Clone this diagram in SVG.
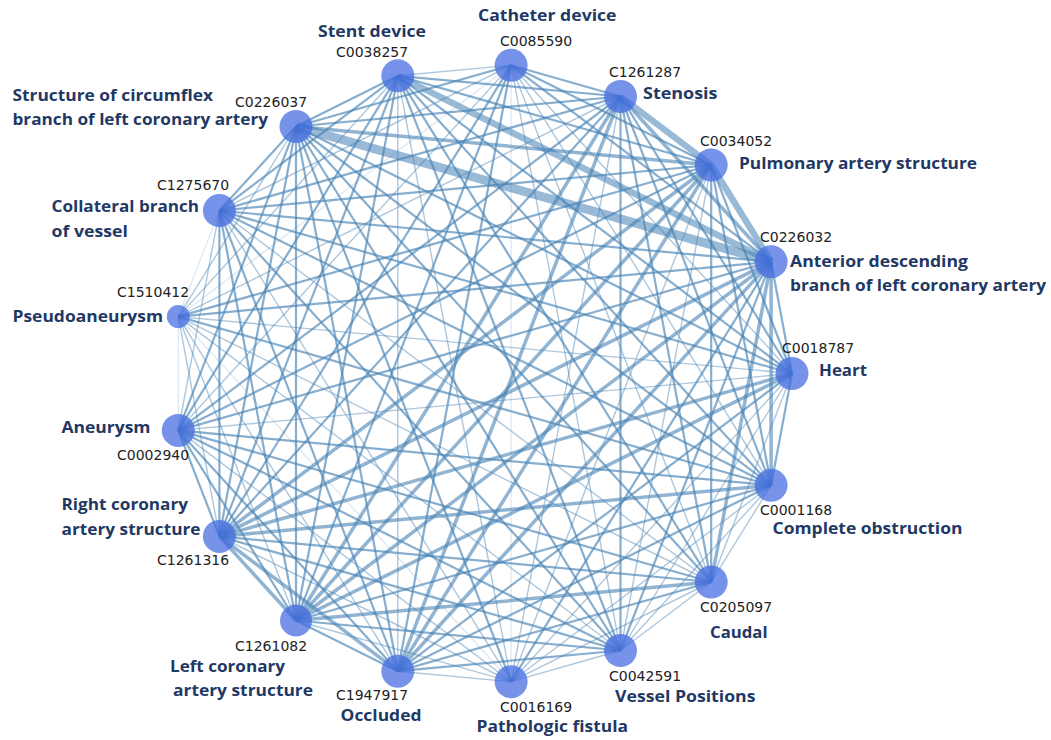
<svg xmlns="http://www.w3.org/2000/svg" width="1051" height="740" viewBox="0 0 1051 740">
<style>
.e line{stroke:#4682b4;stroke-linecap:butt}
.xl{stroke-width:9;stroke-opacity:.55}
.l{stroke-width:6.5;stroke-opacity:.55}
.mp{stroke-width:3.5;stroke-opacity:.6}
.m{stroke-width:2.2;stroke-opacity:.65}
.s{stroke-width:1.4;stroke-opacity:.45}
.xs{stroke-width:1.2;stroke-opacity:.2}
.n circle{fill:#4169e1;fill-opacity:.72}
.id{font-family:"DejaVu Sans",sans-serif;font-size:14px;fill:#222}
.nm{font-family:"Open Sans","Liberation Sans",sans-serif;font-weight:700;font-size:16.5px;fill:#1f3864}
</style>
<rect width="1051" height="740" fill="#fff"/>
<g id="connectors" class="e">
<!-- Heart 0 -->
<line class="m" x1="792" y1="373.5" x2="711.2" y2="165"/>
<line class="m" x1="792" y1="373.5" x2="620.5" y2="96.5"/>
<line class="s" x1="792" y1="373.5" x2="511.1" y2="65.3"/>
<line class="m" x1="792" y1="373.5" x2="397.8" y2="75.8"/>
<line class="m" x1="792" y1="373.5" x2="296" y2="126.5"/>
<line class="m" x1="792" y1="373.5" x2="219.4" y2="210.6"/>
<line class="s" x1="792" y1="373.5" x2="178.3" y2="316.6"/>
<line class="s" x1="792" y1="373.5" x2="178.3" y2="430.4"/>
<line class="mp" x1="792" y1="373.5" x2="219.4" y2="536.4"/>
<line class="mp" x1="792" y1="373.5" x2="296" y2="620.5"/>
<line class="m" x1="792" y1="373.5" x2="397.8" y2="671.2"/>
<line class="s" x1="792" y1="373.5" x2="511.1" y2="681.7"/>
<line class="s" x1="792" y1="373.5" x2="620.5" y2="650.5"/>
<line class="s" x1="792" y1="373.5" x2="711.2" y2="582"/>
<line class="m" x1="792" y1="373.5" x2="771.1" y2="485.3"/>
<!-- Anterior 1 -->
<line class="m" x1="771.1" y1="261.7" x2="792" y2="373.5"/>
<line class="mp" x1="771.1" y1="261.7" x2="620.5" y2="96.5"/>
<line class="m" x1="771.1" y1="261.7" x2="511.1" y2="65.3"/>
<line class="m" x1="771.1" y1="261.7" x2="219.4" y2="210.6"/>
<line class="m" x1="771.1" y1="261.7" x2="178.3" y2="316.6"/>
<line class="m" x1="771.1" y1="261.7" x2="178.3" y2="430.4"/>
<line class="mp" x1="771.1" y1="261.7" x2="219.4" y2="536.4"/>
<line class="mp" x1="771.1" y1="261.7" x2="296" y2="620.5"/>
<line class="mp" x1="771.1" y1="261.7" x2="397.8" y2="671.2"/>
<line class="m" x1="771.1" y1="261.7" x2="511.1" y2="681.7"/>
<line class="m" x1="771.1" y1="261.7" x2="620.5" y2="650.5"/>
<line class="mp" x1="771.1" y1="261.7" x2="711.2" y2="582"/>
<line class="mp" x1="771.1" y1="261.7" x2="771.1" y2="485.3"/>
<!-- Pulmonary 2 -->
<line class="m" x1="711.2" y1="165" x2="511.1" y2="65.3"/>
<line class="m" x1="711.2" y1="165" x2="397.8" y2="75.8"/>
<line class="mp" x1="711.2" y1="165" x2="296" y2="126.5"/>
<line class="m" x1="711.2" y1="165" x2="219.4" y2="210.6"/>
<line class="m" x1="711.2" y1="165" x2="178.3" y2="316.6"/>
<line class="m" x1="711.2" y1="165" x2="178.3" y2="430.4"/>
<line class="mp" x1="711.2" y1="165" x2="219.4" y2="536.4"/>
<line class="mp" x1="711.2" y1="165" x2="296" y2="620.5"/>
<line class="mp" x1="711.2" y1="165" x2="397.8" y2="671.2"/>
<line class="s" x1="711.2" y1="165" x2="511.1" y2="681.7"/>
<line class="s" x1="711.2" y1="165" x2="620.5" y2="650.5"/>
<line class="m" x1="711.2" y1="165" x2="711.2" y2="582"/>
<line class="m" x1="711.2" y1="165" x2="771.1" y2="485.3"/>
<!-- Stenosis 3 -->
<line class="m" x1="620.5" y1="96.5" x2="511.1" y2="65.3"/>
<line class="m" x1="620.5" y1="96.5" x2="397.8" y2="75.8"/>
<line class="m" x1="620.5" y1="96.5" x2="296" y2="126.5"/>
<line class="m" x1="620.5" y1="96.5" x2="219.4" y2="210.6"/>
<line class="s" x1="620.5" y1="96.5" x2="178.3" y2="316.6"/>
<line class="m" x1="620.5" y1="96.5" x2="178.3" y2="430.4"/>
<line class="m" x1="620.5" y1="96.5" x2="219.4" y2="536.4"/>
<line class="mp" x1="620.5" y1="96.5" x2="296" y2="620.5"/>
<line class="mp" x1="620.5" y1="96.5" x2="397.8" y2="671.2"/>
<line class="s" x1="620.5" y1="96.5" x2="511.1" y2="681.7"/>
<line class="m" x1="620.5" y1="96.5" x2="620.5" y2="650.5"/>
<line class="m" x1="620.5" y1="96.5" x2="711.2" y2="582"/>
<line class="m" x1="620.5" y1="96.5" x2="771.1" y2="485.3"/>
<!-- Catheter 4 -->
<line class="s" x1="511.1" y1="65.3" x2="397.8" y2="75.8"/>
<line class="m" x1="511.1" y1="65.3" x2="296" y2="126.5"/>
<line class="s" x1="511.1" y1="65.3" x2="219.4" y2="210.6"/>
<line class="xs" x1="511.1" y1="65.3" x2="178.3" y2="316.6"/>
<line class="s" x1="511.1" y1="65.3" x2="178.3" y2="430.4"/>
<line class="m" x1="511.1" y1="65.3" x2="219.4" y2="536.4"/>
<line class="m" x1="511.1" y1="65.3" x2="296" y2="620.5"/>
<line class="m" x1="511.1" y1="65.3" x2="397.8" y2="671.2"/>
<line class="xs" x1="511.1" y1="65.3" x2="511.1" y2="681.7"/>
<line class="s" x1="511.1" y1="65.3" x2="620.5" y2="650.5"/>
<line class="s" x1="511.1" y1="65.3" x2="711.2" y2="582"/>
<line class="s" x1="511.1" y1="65.3" x2="771.1" y2="485.3"/>
<!-- Stent 5 -->
<line class="m" x1="397.8" y1="75.8" x2="296" y2="126.5"/>
<line class="m" x1="397.8" y1="75.8" x2="219.4" y2="210.6"/>
<line class="s" x1="397.8" y1="75.8" x2="178.3" y2="316.6"/>
<line class="m" x1="397.8" y1="75.8" x2="178.3" y2="430.4"/>
<line class="m" x1="397.8" y1="75.8" x2="219.4" y2="536.4"/>
<line class="m" x1="397.8" y1="75.8" x2="296" y2="620.5"/>
<line class="s" x1="397.8" y1="75.8" x2="397.8" y2="671.2"/>
<line class="s" x1="397.8" y1="75.8" x2="511.1" y2="681.7"/>
<line class="m" x1="397.8" y1="75.8" x2="620.5" y2="650.5"/>
<line class="m" x1="397.8" y1="75.8" x2="711.2" y2="582"/>
<line class="m" x1="397.8" y1="75.8" x2="771.1" y2="485.3"/>
<!-- Circumflex 6 -->
<line class="m" x1="296" y1="126.5" x2="219.4" y2="210.6"/>
<line class="s" x1="296" y1="126.5" x2="178.3" y2="316.6"/>
<line class="m" x1="296" y1="126.5" x2="178.3" y2="430.4"/>
<line class="m" x1="296" y1="126.5" x2="219.4" y2="536.4"/>
<line class="m" x1="296" y1="126.5" x2="296" y2="620.5"/>
<line class="m" x1="296" y1="126.5" x2="397.8" y2="671.2"/>
<line class="m" x1="296" y1="126.5" x2="511.1" y2="681.7"/>
<line class="m" x1="296" y1="126.5" x2="620.5" y2="650.5"/>
<line class="m" x1="296" y1="126.5" x2="711.2" y2="582"/>
<line class="m" x1="296" y1="126.5" x2="771.1" y2="485.3"/>
<!-- Collateral 7 -->
<line class="xs" x1="219.4" y1="210.6" x2="178.3" y2="316.6"/>
<line class="s" x1="219.4" y1="210.6" x2="178.3" y2="430.4"/>
<line class="m" x1="219.4" y1="210.6" x2="219.4" y2="536.4"/>
<line class="m" x1="219.4" y1="210.6" x2="296" y2="620.5"/>
<line class="m" x1="219.4" y1="210.6" x2="397.8" y2="671.2"/>
<line class="s" x1="219.4" y1="210.6" x2="511.1" y2="681.7"/>
<line class="m" x1="219.4" y1="210.6" x2="620.5" y2="650.5"/>
<line class="s" x1="219.4" y1="210.6" x2="711.2" y2="582"/>
<line class="m" x1="219.4" y1="210.6" x2="771.1" y2="485.3"/>
<!-- Pseudoaneurysm 8 -->
<line class="xs" x1="178.3" y1="316.6" x2="178.3" y2="430.4"/>
<line class="s" x1="178.3" y1="316.6" x2="219.4" y2="536.4"/>
<line class="s" x1="178.3" y1="316.6" x2="296" y2="620.5"/>
<line class="s" x1="178.3" y1="316.6" x2="397.8" y2="671.2"/>
<line class="xs" x1="178.3" y1="316.6" x2="511.1" y2="681.7"/>
<line class="s" x1="178.3" y1="316.6" x2="620.5" y2="650.5"/>
<line class="s" x1="178.3" y1="316.6" x2="711.2" y2="582"/>
<line class="m" x1="178.3" y1="316.6" x2="771.1" y2="485.3"/>
<!-- Aneurysm 9 -->
<line class="m" x1="178.3" y1="430.4" x2="219.4" y2="536.4"/>
<line class="m" x1="178.3" y1="430.4" x2="296" y2="620.5"/>
<line class="m" x1="178.3" y1="430.4" x2="397.8" y2="671.2"/>
<line class="s" x1="178.3" y1="430.4" x2="511.1" y2="681.7"/>
<line class="m" x1="178.3" y1="430.4" x2="620.5" y2="650.5"/>
<line class="m" x1="178.3" y1="430.4" x2="711.2" y2="582"/>
<line class="m" x1="178.3" y1="430.4" x2="771.1" y2="485.3"/>
<!-- Right coronary 10 -->
<line class="mp" x1="219.4" y1="536.4" x2="296" y2="620.5"/>
<line class="mp" x1="219.4" y1="536.4" x2="397.8" y2="671.2"/>
<line class="s" x1="219.4" y1="536.4" x2="511.1" y2="681.7"/>
<line class="m" x1="219.4" y1="536.4" x2="620.5" y2="650.5"/>
<line class="m" x1="219.4" y1="536.4" x2="711.2" y2="582"/>
<line class="mp" x1="219.4" y1="536.4" x2="771.1" y2="485.3"/>
<!-- Left coronary 11 -->
<line class="m" x1="296" y1="620.5" x2="397.8" y2="671.2"/>
<line class="s" x1="296" y1="620.5" x2="511.1" y2="681.7"/>
<line class="m" x1="296" y1="620.5" x2="620.5" y2="650.5"/>
<line class="mp" x1="296" y1="620.5" x2="711.2" y2="582"/>
<line class="m" x1="296" y1="620.5" x2="771.1" y2="485.3"/>
<!-- Occluded 12 -->
<line class="s" x1="397.8" y1="671.2" x2="511.1" y2="681.7"/>
<line class="m" x1="397.8" y1="671.2" x2="620.5" y2="650.5"/>
<line class="m" x1="397.8" y1="671.2" x2="711.2" y2="582"/>
<line class="m" x1="397.8" y1="671.2" x2="771.1" y2="485.3"/>
<!-- Fistula 13, Vessel 14, Caudal 15 -->
<line class="s" x1="511.1" y1="681.7" x2="620.5" y2="650.5"/>
<line class="s" x1="511.1" y1="681.7" x2="711.2" y2="582"/>
<line class="s" x1="511.1" y1="681.7" x2="771.1" y2="485.3"/>
<line class="s" x1="620.5" y1="650.5" x2="711.2" y2="582"/>
<line class="s" x1="620.5" y1="650.5" x2="771.1" y2="485.3"/>
<line class="s" x1="711.2" y1="582" x2="771.1" y2="485.3"/>
<!-- heavy -->
<line class="l" x1="620.5" y1="96.5" x2="711.2" y2="165"/>
<line class="l" x1="711.2" y1="165" x2="771.1" y2="261.7"/>
<line class="l" x1="397.8" y1="75.8" x2="771.1" y2="261.7"/>
<line class="xl" x1="296" y1="126.5" x2="771.1" y2="261.7"/>
</g>
<g id="n-heart" class="n"><circle cx="792" cy="373.5" r="16.5"/><text class="id" x="782" y="353">C0018787</text><text class="nm" x="819" y="375.5" textLength="48" lengthAdjust="spacingAndGlyphs">Heart</text></g>
<g id="n-anterior" class="n"><circle cx="771.1" cy="261.7" r="16.5"/><text class="id" x="760" y="242">C0226032</text><text class="nm" x="790" y="266.5" textLength="178" lengthAdjust="spacingAndGlyphs">Anterior descending</text><text class="nm" x="790" y="290.5" textLength="256" lengthAdjust="spacingAndGlyphs">branch of left coronary artery</text></g>
<g id="n-pulmonary" class="n"><circle cx="711.2" cy="165" r="16.5"/><text class="id" x="700" y="146">C0034052</text><text class="nm" x="739" y="169" textLength="238" lengthAdjust="spacingAndGlyphs">Pulmonary artery structure</text></g>
<g id="n-stenosis" class="n"><circle cx="620.5" cy="96.5" r="16.5"/><text class="id" x="609" y="76.5">C1261287</text><text class="nm" x="643" y="99" textLength="74.5" lengthAdjust="spacingAndGlyphs">Stenosis</text></g>
<g id="n-catheter" class="n"><circle cx="511.1" cy="65.3" r="16.5"/><text class="id" x="500" y="45.5">C0085590</text><text class="nm" x="478" y="21" textLength="138.5" lengthAdjust="spacingAndGlyphs">Catheter device</text></g>
<g id="n-stent" class="n"><circle cx="397.8" cy="75.8" r="16.5"/><text class="id" x="336" y="56.5">C0038257</text><text class="nm" x="318" y="37" textLength="108" lengthAdjust="spacingAndGlyphs">Stent device</text></g>
<g id="n-circumflex" class="n"><circle cx="296" cy="126.5" r="16.5"/><text class="id" x="235" y="106.5">C0226037</text><text class="nm" x="12.5" y="100.5" textLength="200.5" lengthAdjust="spacingAndGlyphs">Structure of circumflex</text><text class="nm" x="12.5" y="125" textLength="255.5" lengthAdjust="spacingAndGlyphs">branch of left coronary artery</text></g>
<g id="n-collateral" class="n"><circle cx="219.4" cy="210.6" r="16.5"/><text class="id" x="157" y="190">C1275670</text><text class="nm" x="51.5" y="211.5" textLength="147.5" lengthAdjust="spacingAndGlyphs">Collateral branch</text><text class="nm" x="51.5" y="236.5" textLength="76.5" lengthAdjust="spacingAndGlyphs">of vessel</text></g>
<g id="n-pseudo" class="n"><circle cx="178.3" cy="316.6" r="11.5"/><text class="id" x="117" y="296.5">C1510412</text><text class="nm" x="12.5" y="322" textLength="150.5" lengthAdjust="spacingAndGlyphs">Pseudoaneurysm</text></g>
<g id="n-aneurysm" class="n"><circle cx="178.3" cy="430.4" r="16.5"/><text class="id" x="117" y="460">C0002940</text><text class="nm" x="61.5" y="433" textLength="89" lengthAdjust="spacingAndGlyphs">Aneurysm</text></g>
<g id="n-right" class="n"><circle cx="219.4" cy="536.4" r="16.5"/><text class="id" x="157" y="565">C1261316</text><text class="nm" x="61.5" y="510" textLength="126.5" lengthAdjust="spacingAndGlyphs">Right coronary</text><text class="nm" x="61.5" y="535" textLength="139" lengthAdjust="spacingAndGlyphs">artery structure</text></g>
<g id="n-left" class="n"><circle cx="296" cy="620.5" r="16"/><text class="id" x="235" y="650.5">C1261082</text><text class="nm" x="170" y="672" textLength="115" lengthAdjust="spacingAndGlyphs">Left coronary</text><text class="nm" x="173" y="696" textLength="140" lengthAdjust="spacingAndGlyphs">artery structure</text></g>
<g id="n-occluded" class="n"><circle cx="397.8" cy="671.2" r="16.5"/><text class="id" x="336" y="700">C1947917</text><text class="nm" x="340.5" y="721" textLength="81" lengthAdjust="spacingAndGlyphs">Occluded</text></g>
<g id="n-fistula" class="n"><circle cx="511.1" cy="681.7" r="16.5"/><text class="id" x="500" y="711.5">C0016169</text><text class="nm" x="476.5" y="732" textLength="151.5" lengthAdjust="spacingAndGlyphs">Pathologic fistula</text></g>
<g id="n-vessel" class="n"><circle cx="620.5" cy="650.5" r="16.5"/><text class="id" x="609" y="680.5">C0042591</text><text class="nm" x="615" y="701.5" textLength="140.5" lengthAdjust="spacingAndGlyphs">Vessel Positions</text></g>
<g id="n-caudal" class="n"><circle cx="711.2" cy="582" r="16.5"/><text class="id" x="700" y="611.5">C0205097</text><text class="nm" x="710" y="637.5" textLength="57.5" lengthAdjust="spacingAndGlyphs">Caudal</text></g>
<g id="n-complete" class="n"><circle cx="771.1" cy="485.3" r="16.5"/><text class="id" x="760" y="515">C0001168</text><text class="nm" x="772.5" y="534" textLength="190" lengthAdjust="spacingAndGlyphs">Complete obstruction</text></g>
</svg>
